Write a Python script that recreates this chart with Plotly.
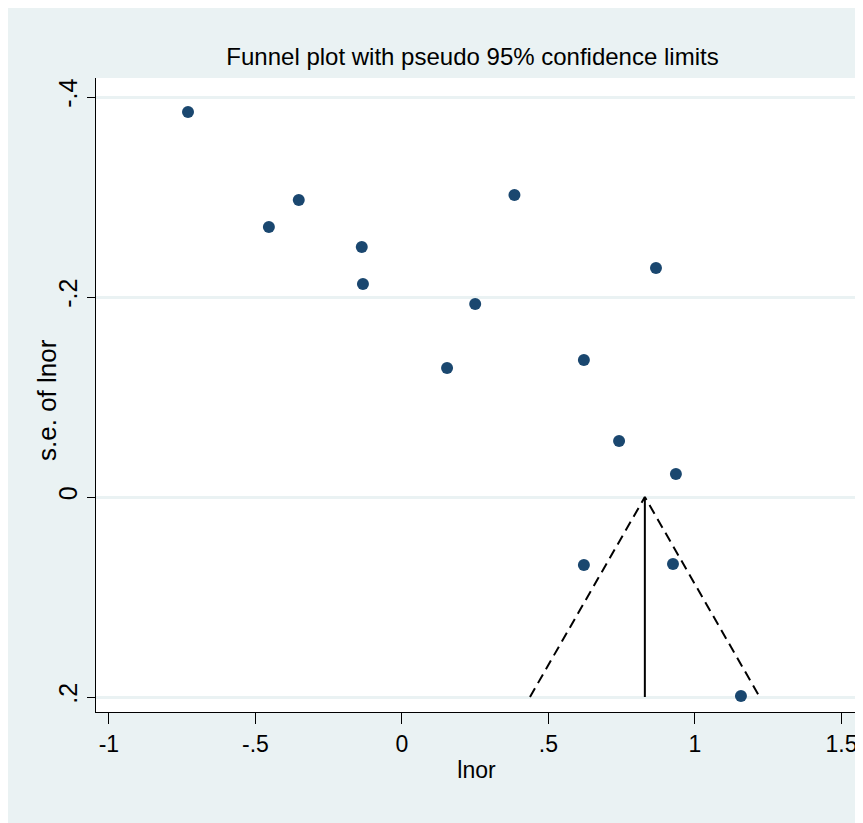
import plotly.graph_objects as go

# Study estimates (log odds ratio) and their standard errors
lnor = [-0.730, -0.454, -0.352, -0.137, -0.133, 0.154, 0.250, 0.384,
        0.867, 0.621, 0.741, 0.935, 0.621, 0.925, 1.157]
se_lnor = [-0.385, -0.270, -0.297, -0.250, -0.213, -0.129, -0.193, -0.302,
           -0.229, -0.137, -0.056, -0.023, 0.068, 0.067, 0.199]

# Pooled estimate and funnel range
pooled = 0.829
se_funnel = [0.0, 0.2]

x_ticks = [-1, -0.5, 0, 0.5, 1, 1.5]
x_tick_labels = ["-1", "-.5", "0", ".5", "1", "1.5"]
y_ticks = [-0.4, -0.2, 0, 0.2]
y_tick_labels = ["-.4", "-.2", "0", ".2"]

navy = "#1a476f"
bg = "#eaf2f3"
font_family = "Liberation Sans, Arial, sans-serif"

fig = go.Figure()

# Funnel lines (pseudo 95% limits)
fig.add_trace(go.Scatter(
    x=[pooled - 1.96 * se_funnel[1], pooled, pooled + 1.96 * se_funnel[1]],
    y=[se_funnel[1], se_funnel[0], se_funnel[1]],
    mode="lines", line=dict(color="black", width=2, dash="10px,6px"),
    hoverinfo="skip", showlegend=False))
# Vertical line at pooled estimate
fig.add_trace(go.Scatter(
    x=[pooled, pooled], y=se_funnel,
    mode="lines", line=dict(color="black", width=2),
    hoverinfo="skip", showlegend=False))
# Study points
fig.add_trace(go.Scatter(
    x=lnor, y=se_lnor, mode="markers",
    marker=dict(color=navy, size=12, line=dict(width=0)),
    showlegend=False))

W, H = 855, 815
L, R, T, B = 88, 6, 70, 111
pw, ph = W - L - R, H - T - B

fig.update_layout(
    width=W, height=H,
    margin=dict(l=L, r=R, t=T, b=B, pad=0),
    paper_bgcolor=bg, plot_bgcolor="white",
    font=dict(family=font_family, color="black", size=22),
    title=dict(text="Funnel plot with pseudo 95% confidence limits",
               x=464.5 / W, xanchor="center",
               y=1 - 49 / H, yanchor="middle",
               font=dict(size=24, family=font_family, color="black")),
    xaxis=dict(range=[-1.044, 1.553], tickvals=x_ticks, ticktext=x_tick_labels,
               showgrid=False, zeroline=False, showline=True, linecolor="black",
               linewidth=1, ticks="outside", ticklen=11, tickcolor="black",
               tickfont=dict(size=23),
               title=dict(text="lnor", font=dict(size=23), standoff=6)),
    yaxis=dict(range=[0.215, -0.419], tickvals=y_ticks, ticktext=y_tick_labels,
               tickangle=-90, showgrid=True, gridcolor=bg, gridwidth=3,
               zeroline=False, showline=True, linecolor="black", linewidth=1,
               ticks="outside", ticklen=8, tickcolor="black",
               tickfont=dict(size=25)),
    annotations=[dict(text="s.e. of lnor", textangle=-90, showarrow=False,
                      xref="paper", yref="paper",
                      x=(39 - L) / pw, y=(ph + T - 392) / ph,
                      xanchor="center", yanchor="middle",
                      font=dict(size=26, family=font_family, color="black"))],
)

fig.write_html("out.html")
